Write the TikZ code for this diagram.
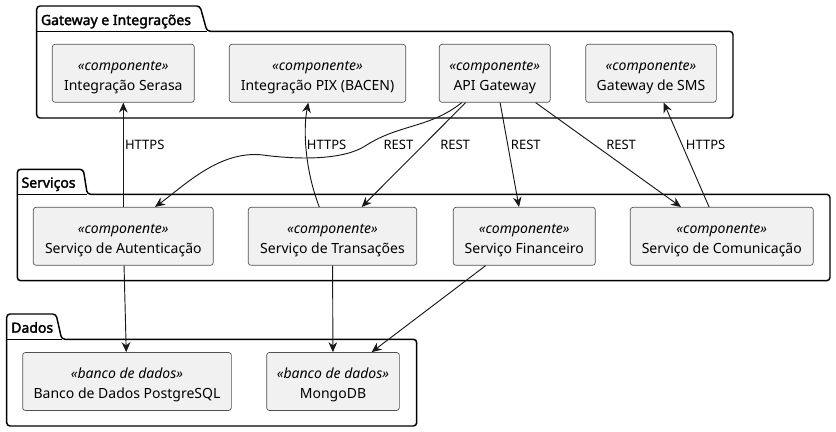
\documentclass[tikz,border=0pt]{standalone}
\usepackage{fontspec}
\setmainfont{Noto Sans}[AutoFakeBold=2.2]
\usetikzlibrary{arrows.meta}
\definecolor{compfill}{HTML}{F1F1F1}
\definecolor{ink}{HTML}{181818}
\newcommand\stereo[1]{{\itshape\rule{0pt}{13.5pt}«#1»}}
\begin{document}
\begin{tikzpicture}[x=0.75pt,y=-0.75pt,
    comp/.style={draw=ink!75, line width=0.5pt, fill=compfill, rounded corners=2pt,
      minimum height=43.5pt, inner sep=0pt, align=center, font=\fontsize{10.5}{15}\selectfont},
    pkg/.style={draw=black, line width=1.1pt, rounded corners=2.5pt},
    pkgtitle/.style={anchor=base west, inner sep=0pt, font=\fontsize{10.5}{12}\selectfont\bfseries},
    flow/.style={draw=ink, line width=0.7pt, -{Stealth[length=7.5pt,width=6.5pt,inset=2.5pt]}},
    lbl/.style={anchor=west, inner sep=0pt, font=\fontsize{9.75}{12}\selectfont}]
    \path[use as bounding box, fill=white] (0,0) rectangle (836,432);

    \draw[pkg] (36.7,118) -- (36.7,6) -- (200,6) -- (207,31.3) -- (733,31.3) -- (733,118) -- cycle;
    \draw[pkg] (36.7,31.3) -- (207,31.3);
    \node[pkgtitle] (tgw) at (40.7,25) {Gateway e Integrações};

    \draw[pkg] (17.3,280.7) -- (17.3,169.3) -- (83.3,169.3) -- (87.3,194.3) -- (830,194.3) -- (830,280.7) -- cycle;
    \draw[pkg] (17.3,194.3) -- (87.3,194.3);
    \node[pkgtitle] (tsv) at (21.3,187.7) {Serviços};

    \draw[pkg] (6.7,426) -- (6.7,314) -- (56,314) -- (61.7,339.3) -- (416.7,339.3) -- (416.7,426) -- cycle;
    \draw[pkg] (6.7,339.3) -- (61.7,339.3);
    \node[pkgtitle] (tdd) at (11,332.7) {Dados};

    \coordinate (c-serasa) at (123.3,73.3);
    \coordinate (c-pix) at (317.5,73.3);
    \coordinate (c-api) at (494.8,73.3);
    \coordinate (c-sms) at (651,73.3);
    \coordinate (c-aut) at (123.3,236.3);
    \coordinate (c-trans) at (332.5,236.3);
    \coordinate (c-fin) at (524.3,236.3);
    \coordinate (c-com) at (721.8,236.3);
    \coordinate (c-pg) at (127,381.5);
    \coordinate (c-mongo) at (333,381.5);

    \node[comp, minimum width=106.5pt] (serasa) at (c-serasa) {\stereo{componente}\\Integração Serasa};
    \node[comp, minimum width=132.3pt] (pix) at (c-pix) {\stereo{componente}\\Integração PIX (BACEN)};
    \node[comp, minimum width=83.25pt] (api) at (c-api) {\stereo{componente}\\API Gateway};
    \node[comp, minimum width=98pt] (sms) at (c-sms) {\stereo{componente}\\Gateway de SMS};

    \node[comp, minimum width=135pt] (aut) at (c-aut) {\stereo{componente}\\Serviço de Autenticação};
    \node[comp, minimum width=126.3pt] (trans) at (c-trans) {\stereo{componente}\\Serviço de Transações};
    \node[comp, minimum width=106.5pt] (fin) at (c-fin) {\stereo{componente}\\Serviço Financeiro};
    \node[comp, minimum width=137.25pt] (com) at (c-com) {\stereo{componente}\\Serviço de Comunicação};

    \node[comp, minimum width=156.5pt] (pg) at (c-pg) {\stereo{banco de dados}\\Banco de Dados PostgreSQL};
    \node[comp, minimum width=99.5pt] (mongo) at (c-mongo) {\stereo{banco de dados}\\MongoDB};

    \coordinate (w1) at (366.7,145);
    \coordinate (w2) at (263,155);

    \draw[flow] (aut) -- (serasa);
    \draw[flow] ([xshift=-9.9pt]trans.north) .. controls (305,170) and (303,130) .. ([xshift=-6.9pt]pix.south);
    \draw[flow] ([xshift=-24.8pt]api.south) .. controls (430,128) and (400,124) .. (w1)
        .. controls (345,160) and (300,160) .. (w2)
        .. controls (220,150) and (185,185) .. ([xshift=23.8pt]aut.north);
    \draw[flow] (api) -- (trans);
    \draw[flow] (api) -- (fin);
    \draw[flow] (api) -- (com);
    \draw[flow] (com) -- (sms);
    \draw[flow] (aut) -- (pg);
    \draw[flow] (trans) -- (mongo);
    \draw[flow] (fin) -- (mongo);

    \node[lbl] (l-serasa) at (124.8,145) {HTTPS};
    \node[lbl] (l-pix) at (306.7,145) {HTTPS};
    \node[lbl] (l-aut) at (383.3,145) {REST};
    \node[lbl] (l-trans) at (440,145) {REST};
    \node[lbl] (l-fin) at (510.7,145) {REST};
    \node[lbl] (l-com) at (606,145) {REST};
    \node[lbl] (l-sms) at (685.7,145) {HTTPS};
  \end{tikzpicture}
\end{document}
